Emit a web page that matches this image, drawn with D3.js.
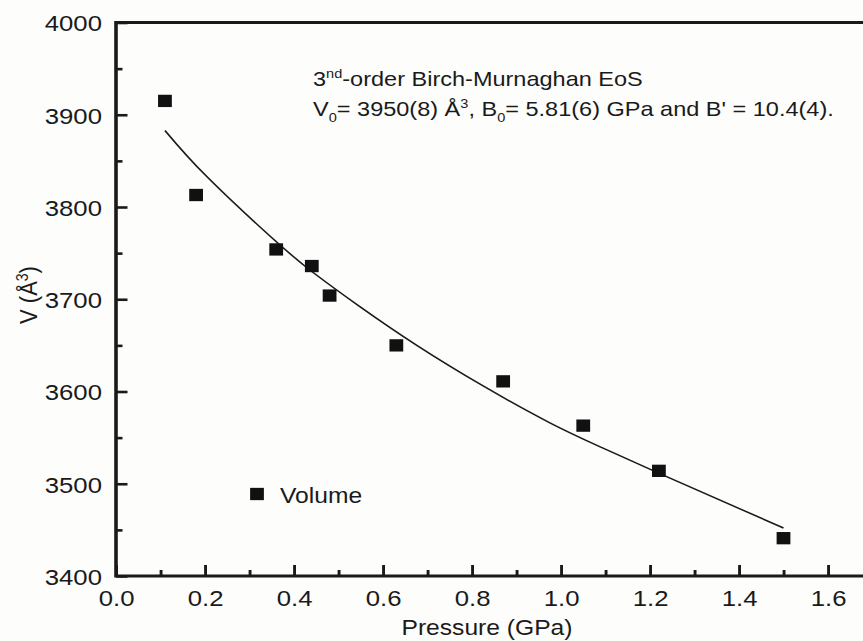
<!DOCTYPE html>
<html>
<head>
<meta charset="utf-8">
<script src="https://cdn.jsdelivr.net/npm/d3@7"></script>
<style>
  html, body { margin: 0; padding: 0; background: #fdfdfc; }
  svg { display: block; }
  text { font-family: "Liberation Sans", Arial, Helvetica, sans-serif; fill: #1a1a1a; }
</style>
</head>
<body>
<svg id="chart" width="863" height="641"></svg>
<script>
// Measured unit-cell volume versus pressure
const pressure = [0.11, 0.18, 0.36, 0.44, 0.48, 0.63, 0.87, 1.05, 1.22, 1.50];
const volume   = [3915, 3813, 3754, 3736, 3704, 3650, 3611, 3563, 3514, 3441];

// 3rd-order Birch-Murnaghan fit curve, sampled
const fitPressure = [0.11, 0.204, 0.354, 0.443, 0.548, 0.676, 0.825, 0.975, 1.088, 1.222, 1.50];
const fitVolume   = [3883, 3833, 3765, 3729, 3692, 3650, 3606, 3566, 3540, 3511, 3452];

// Axis ticks
const xMajorTicks = [0.0, 0.2, 0.4, 0.6, 0.8, 1.0, 1.2, 1.4, 1.6];
const xMinorTicks = [0.1, 0.3, 0.5, 0.7, 0.9, 1.1, 1.3, 1.5];
const yMajorTicks = [3400, 3500, 3600, 3700, 3800, 3900, 4000];
const yMinorTicks = [3450, 3550, 3650, 3750, 3850, 3950];

const SX = 1.12;           // horizontal stretch of the whole figure
const svg = d3.select("#chart");
const g = svg.append("g").attr("transform", `scale(${SX},1)`);

const plotLeft = 116, plotTop = 22.5, plotBottom = 576, unit = 44.5; // screen px per 0.1 GPa
const x = d3.scaleLinear().domain([0, 1.7]).range([plotLeft / SX, (plotLeft + 17 * unit) / SX]);
const y = d3.scaleLinear().domain([3400, 4000]).range([plotBottom, plotTop]);

const ink = "#1a1a1a";

// inward ticks
const xMaj = g.append("g").attr("transform", `translate(0,${plotBottom})`)
  .call(d3.axisBottom(x).tickValues(xMajorTicks).tickSize(-11).tickFormat(d3.format(".1f")));
const xMin = g.append("g").attr("transform", `translate(0,${plotBottom})`)
  .call(d3.axisBottom(x).tickValues(xMinorTicks).tickSize(-6).tickFormat(""));
const yMaj = g.append("g").attr("transform", `translate(${x(0)},0)`)
  .call(d3.axisLeft(y).tickValues(yMajorTicks).tickSize(-11.5 / SX).tickFormat(d3.format("d")));
const yMin = g.append("g").attr("transform", `translate(${x(0)},0)`)
  .call(d3.axisLeft(y).tickValues(yMinorTicks).tickSize(-6.5 / SX).tickFormat(""));

[xMaj, xMin, yMaj, yMin].forEach(a => {
  a.select(".domain").remove();
  a.selectAll(".tick line").attr("stroke", ink).attr("stroke-width", 2.6);
});
xMaj.selectAll(".tick text")
  .attr("y", 30).attr("dy", 0)
  .attr("font-size", 23).attr("fill", ink).attr("text-anchor", "middle");
yMaj.selectAll(".tick text")
  .attr("x", (102 - plotLeft) / SX).attr("dy", "0.36em")
  .attr("font-size", 23).attr("fill", ink).attr("text-anchor", "end");

// frame (left, top, bottom)
g.append("path")
  .attr("d", `M${x(1.7)},${plotTop}H${x(0)}V${plotBottom}H${x(1.7)}`)
  .attr("fill", "none").attr("stroke", ink).attr("stroke-width", 3.2);

// fit curve
const line = d3.line()
  .x((d, i) => x(fitPressure[i]))
  .y(d => y(d))
  .curve(d3.curveNatural);
g.append("path").datum(fitVolume)
  .attr("d", line).attr("fill", "none").attr("stroke", ink).attr("stroke-width", 1.5);

// data squares
const sq = 12.3;
g.selectAll("rect.pt").data(volume).join("rect")
  .attr("class", "pt")
  .attr("x", (d, i) => x(pressure[i]) - sq / 2)
  .attr("y", d => y(d) - sq / 2)
  .attr("width", sq).attr("height", sq)
  .attr("fill", "#111");

// legend
g.append("rect")
  .attr("x", 257 / SX - sq / 2).attr("y", 494 - sq / 2)
  .attr("width", sq).attr("height", sq).attr("fill", "#111");
g.append("text").attr("x", 280 / SX).attr("y", 503)
  .attr("font-size", 22).text("Volume");

// annotation
const t1 = g.append("text").attr("x", 313 / SX).attr("y", 86).attr("font-size", 21);
t1.append("tspan").text("3");
t1.append("tspan").attr("dy", -8).attr("font-size", 13).text("nd");
t1.append("tspan").attr("dy", 8).text("-order Birch-Murnaghan EoS");

const t2 = g.append("text").attr("x", 313 / SX).attr("y", 116.5).attr("font-size", 21);
t2.append("tspan").text("V");
t2.append("tspan").attr("dy", 6).attr("font-size", 13).text("0");
t2.append("tspan").attr("dy", -6).text("= 3950(8) Å");
t2.append("tspan").attr("dy", -8).attr("font-size", 13).text("3");
t2.append("tspan").attr("dy", 8).text(", B");
t2.append("tspan").attr("dy", 6).attr("font-size", 13).text("0");
t2.append("tspan").attr("dy", -6).text("= 5.81(6) GPa and B' = 10.4(4).");

// axis titles
g.append("text")
  .attr("x", 487 / SX).attr("y", 635)
  .attr("text-anchor", "middle").attr("font-size", 22)
  .text("Pressure (GPa)");

const yt = g.append("text")
  .attr("transform", `translate(${37 / SX},295) rotate(-90)`)
  .attr("text-anchor", "middle").attr("font-size", 22);
yt.append("tspan").text("V (Å");
yt.append("tspan").attr("dy", -8).attr("font-size", 14).text("3");
yt.append("tspan").attr("dy", 8).text(")");
</script>
</body>
</html>
